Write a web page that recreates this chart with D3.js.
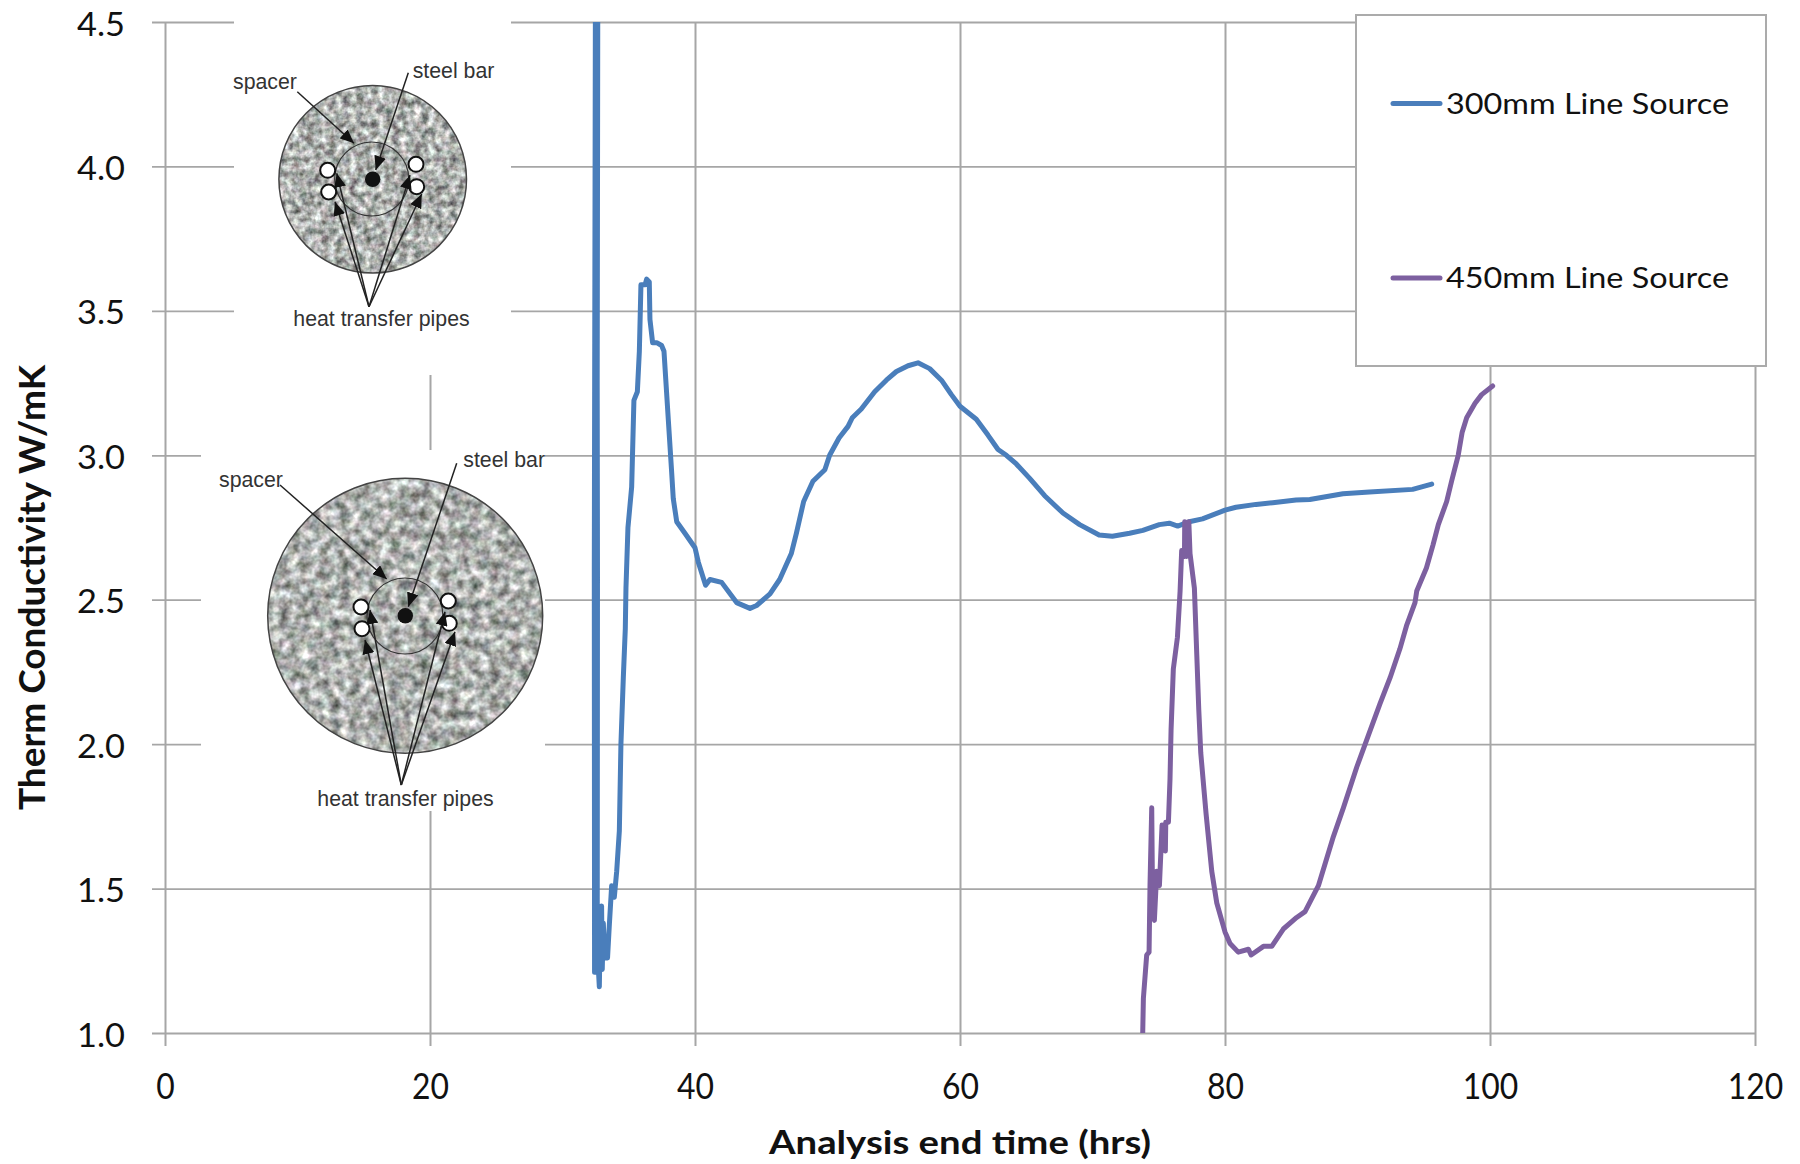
<!DOCTYPE html>
<html>
<head>
<meta charset="utf-8">
<script src="https://cdn.jsdelivr.net/npm/d3@7"></script>
<style>
  body { margin: 0; background: #fff; }
  text { fill: #111; font-family: Lato, sans-serif; }
  .drawing text { fill: #333; font-family: "Liberation Sans", sans-serif; font-size: 21.3px; }
</style>
</head>
<body>
<div id="chart"></div>
<script>
const WIDTH = 1800;
const HEIGHT = 1164;
const GRID_COLOR = "#a6a6a6";
const TICK_LENGTH = 13;

const X_TICKS = [0, 20, 40, 60, 80, 100, 120];
const Y_TICKS = [1.0, 1.5, 2.0, 2.5, 3.0, 3.5, 4.0, 4.5];

const X_TITLE = "Analysis end time (hrs)";
const Y_TITLE = "Therm Conductivity W/mK";
const SERIES_NAMES = ["300mm Line Source", "450mm Line Source"];
const SERIES_COLORS = ["#4a7ebb", "#7d60a0"];

// [hours, W/mK]
const line300 = [
  [32.66, 4.5], [32.55, 1.21], [32.42, 1.21], [32.4, 2.6], [32.48, 4.5], [32.58, 4.5], [32.64, 2.6],
  [32.62, 1.21], [32.72, 1.21], [32.78, 1.16], [32.83, 1.3], [32.95, 1.44], [33.0, 1.22],
  [33.08, 1.38], [33.2, 1.26], [33.4, 1.26], [33.53, 1.37], [33.71, 1.51], [33.91, 1.47],
  [34.09, 1.56], [34.29, 1.7], [34.41, 2.0], [34.59, 2.23], [34.74, 2.4], [34.79, 2.54],
  [34.94, 2.75], [35.22, 2.89], [35.39, 3.19], [35.65, 3.22], [35.8, 3.36], [35.92, 3.59],
  [36.23, 3.59], [36.35, 3.61], [36.55, 3.6], [36.6, 3.47], [36.8, 3.39], [37.11, 3.39],
  [37.48, 3.38], [37.66, 3.36], [37.99, 3.12], [38.24, 2.94], [38.36, 2.85], [38.62, 2.77],
  [39.24, 2.73], [40.0, 2.68], [40.25, 2.63], [40.8, 2.55], [41.13, 2.57], [42.01, 2.56],
  [43.14, 2.49], [44.15, 2.47], [44.65, 2.48], [45.66, 2.52], [46.39, 2.57], [47.27, 2.66],
  [47.65, 2.73], [48.2, 2.84], [48.9, 2.91], [49.8, 2.95], [50.16, 3.0], [50.87, 3.06],
  [51.55, 3.1], [51.87, 3.13], [52.55, 3.16], [53.56, 3.22], [54.44, 3.26], [55.2, 3.29],
  [56.08, 3.31], [56.83, 3.32], [57.71, 3.3], [58.6, 3.26], [59.35, 3.21], [60.0, 3.17],
  [61.23, 3.125], [62.11, 3.07], [62.87, 3.02], [63.5, 3.0], [64.25, 2.97], [65.26, 2.92],
  [66.39, 2.86], [67.77, 2.8], [69.03, 2.76], [70.5, 2.724], [71.5, 2.72], [72.8, 2.73],
  [73.8, 2.74], [75.04, 2.76], [75.8, 2.765], [76.43, 2.755], [77.3, 2.77], [78.3, 2.78],
  [80.0, 2.81], [80.83, 2.82], [82.34, 2.83], [83.6, 2.836], [85.36, 2.845], [86.4, 2.847],
  [88.9, 2.867], [90.9, 2.873], [94.16, 2.882], [95.6, 2.9]
];

const line450 = [
  [73.79, 1.0], [73.84, 1.12], [74.09, 1.27], [74.27, 1.28], [74.34, 1.51], [74.47, 1.78],
  [74.54, 1.42], [74.67, 1.39], [74.85, 1.56], [75.05, 1.51], [75.25, 1.72], [75.5, 1.63],
  [75.53, 1.73], [75.73, 1.73], [75.85, 1.88], [75.93, 2.05], [76.1, 2.26], [76.41, 2.37],
  [76.61, 2.53], [76.73, 2.67], [76.94, 2.65], [76.96, 2.77], [77.1, 2.65], [77.27, 2.77],
  [77.36, 2.66], [77.69, 2.54], [77.87, 2.31], [78.02, 2.12], [78.17, 1.97], [78.57, 1.76],
  [79.0, 1.56], [79.38, 1.45], [80.0, 1.35], [80.38, 1.31], [81.0, 1.28], [81.77, 1.29],
  [81.97, 1.27], [82.9, 1.3], [83.53, 1.3], [84.4, 1.36], [85.41, 1.4], [86.04, 1.42],
  [87.05, 1.51], [88.18, 1.68], [88.94, 1.78], [89.94, 1.92], [90.82, 2.03], [91.7, 2.14],
  [92.46, 2.23], [93.2, 2.33], [93.7, 2.41], [94.34, 2.49], [94.47, 2.53], [95.2, 2.61],
  [95.7, 2.69], [96.1, 2.76], [96.73, 2.84], [97.1, 2.91], [97.6, 3.0], [97.9, 3.08],
  [98.24, 3.13], [98.87, 3.18], [99.37, 3.21], [100.2, 3.24]
];

const SERIES = [line300, line450];

// The two borehole sketches pasted over the chart, in page pixels
const DRAWINGS = [
  {
    box: [234, 0, 277, 375], grain: 0.14,
    center: [372.7, 179.3], radius: 93.8, spacer: [371.7, 179, 37],
    bar: [372.7, 179.3],
    pipes: [[327.7, 170.3], [328.7, 192], [416, 164.3], [416.7, 186.7]],
    spacerArrow: [297.3, 91.7, 354, 143.3],
    barArrow: [408.3, 72.7, 375.7, 170],
    pipesFrom: [369, 306.7],
    pipesTo: [[335, 201.7], [336.7, 173.3], [410, 175], [421.7, 194]],
    spacerLabel: [233, 89], barLabel: [412.7, 77.7], pipesLabel: [293.3, 326]
  },
  {
    box: [201, 450, 344, 361], grain: 0.1,
    center: [405.2, 615.8], radius: 137.5, spacer: [405, 616, 38],
    bar: [405.3, 615.7],
    pipes: [[361, 607], [362, 628.7], [448.3, 601], [449.3, 623.3]],
    spacerArrow: [280, 485, 386.7, 579],
    barArrow: [456.7, 463.3, 408.3, 606.7],
    pipesFrom: [401.3, 785],
    pipesTo: [[365, 640], [370, 610], [445, 611.7], [455, 631.7]],
    spacerLabel: [219, 487.3], barLabel: [463.3, 466.7], pipesLabel: [317.3, 806]
  }
];

var svg = d3.select("#chart").append("svg")
  .attr("width", WIDTH)
  .attr("height", HEIGHT);

var defs = svg.append("defs");

var xScale = d3.scaleLinear().domain([0, 120]).range([165, 1755]);
var yScale = d3.scaleLinear().domain([1, 4.5]).range([1033, 22]);

function drawAxes() {

  var xAxis = svg.append("g")
    .attr("transform", "translate(0," + yScale(1) + ")")
    .call(d3.axisBottom(xScale).tickValues(X_TICKS).tickSizeOuter(0));

  xAxis.select(".domain").remove();
  xAxis.selectAll("line")
    .attr("y1", yScale(4.5) - yScale(1))
    .attr("y2", TICK_LENGTH)
    .attr("stroke", GRID_COLOR)
    .attr("stroke-width", 2);
  xAxis.selectAll("text")
    .attr("y", 66)
    .attr("dy", 0)
    .attr("font-size", 36)
    .attr("textLength", function(d) { return String(d).length * 18.5; })
    .attr("lengthAdjust", "spacingAndGlyphs");

  var yAxis = svg.append("g")
    .attr("transform", "translate(165,0)")
    .call(d3.axisLeft(yScale).tickValues(Y_TICKS).tickFormat(d3.format(".1f")).tickSizeOuter(0));

  yAxis.select(".domain").remove();
  yAxis.selectAll("line")
    .attr("x1", -TICK_LENGTH)
    .attr("x2", xScale(120) - xScale(0))
    .attr("stroke", GRID_COLOR)
    .attr("stroke-width", 1.8);
  yAxis.selectAll("text")
    .attr("x", -40)
    .attr("dy", 13)
    .attr("font-size", 33)
    .attr("textLength", 48)
    .attr("lengthAdjust", "spacingAndGlyphs");

}

function drawTitles() {

  svg.append("text")
    .attr("x", 960)
    .attr("y", 1154)
    .attr("text-anchor", "middle")
    .attr("font-size", 33)
    .attr("font-weight", "bold")
    .attr("textLength", 382)
    .attr("lengthAdjust", "spacingAndGlyphs")
    .text(X_TITLE);

  svg.append("text")
    .attr("transform", "translate(45,587.5) rotate(-90)")
    .attr("text-anchor", "middle")
    .attr("font-size", 36)
    .attr("font-weight", "bold")
    .attr("textLength", 445)
    .attr("lengthAdjust", "spacingAndGlyphs")
    .text(Y_TITLE);

}

function drawSeries() {

  defs.append("clipPath")
    .attr("id", "plot-clip")
    .append("rect")
    .attr("x", 0)
    .attr("y", yScale(4.5))
    .attr("width", WIDTH)
    .attr("height", yScale(1) - yScale(4.5));

  var line = d3.line()
    .x(function(d) { return xScale(d[0]); })
    .y(function(d) { return yScale(d[1]); });

  svg.append("g")
    .attr("clip-path", "url(#plot-clip)")
    .selectAll("path")
    .data(SERIES)
    .enter().append("path")
    .attr("fill", "none")
    .attr("stroke", function(d, i) { return SERIES_COLORS[i]; })
    .attr("stroke-width", 5)
    .attr("stroke-linejoin", "round")
    .attr("stroke-linecap", "round")
    .attr("d", line);

}

function drawLegend() {

  svg.append("rect")
    .attr("x", 1356)
    .attr("y", 15)
    .attr("width", 410)
    .attr("height", 351)
    .attr("fill", "#fff")
    .attr("stroke", "#ababab")
    .attr("stroke-width", 2);

  var entries = svg.append("g")
    .selectAll("g")
    .data(SERIES_NAMES)
    .enter().append("g")
    .attr("transform", function(d, i) { return "translate(0," + (103.5 + i * 174.5) + ")"; });

  entries.append("line")
    .attr("x1", 1393)
    .attr("x2", 1440)
    .attr("stroke", function(d, i) { return SERIES_COLORS[i]; })
    .attr("stroke-width", 5)
    .attr("stroke-linecap", "round");

  entries.append("text")
    .attr("x", 1446)
    .attr("y", 10)
    .attr("font-size", 29)
    .attr("textLength", 283)
    .attr("lengthAdjust", "spacingAndGlyphs")
    .text(function(d) { return d; });

}

function drawArrow(group, from, to) {

  group.append("line")
    .attr("x1", from[0])
    .attr("y1", from[1])
    .attr("x2", to[0])
    .attr("y2", to[1])
    .attr("stroke", "#222")
    .attr("stroke-width", 1.5)
    .attr("marker-end", "url(#arrow-head)");

}

function drawDrawing(d, i) {

  var group = svg.append("g").attr("class", "drawing");

  group.append("rect")
    .attr("x", d.box[0])
    .attr("y", d.box[1])
    .attr("width", d.box[2])
    .attr("height", d.box[3])
    .attr("fill", "#fff");

  // Mottled concrete fill
  group.append("circle")
    .attr("cx", d.center[0])
    .attr("cy", d.center[1])
    .attr("r", d.radius)
    .attr("fill", "#aaa6a4")
    .attr("filter", "url(#grout-" + i + ")");

  group.append("circle")
    .attr("cx", d.center[0])
    .attr("cy", d.center[1])
    .attr("r", d.radius)
    .attr("fill", "none")
    .attr("stroke", "#444")
    .attr("stroke-width", 1.5);

  group.append("circle")
    .attr("cx", d.spacer[0])
    .attr("cy", d.spacer[1])
    .attr("r", d.spacer[2])
    .attr("fill", "none")
    .attr("stroke", "#333")
    .attr("stroke-width", 1.2);

  group.append("circle")
    .attr("cx", d.bar[0])
    .attr("cy", d.bar[1])
    .attr("r", 7.7)
    .attr("fill", "#111");

  group.selectAll(".pipe")
    .data(d.pipes)
    .enter().append("circle")
    .attr("class", "pipe")
    .attr("cx", function(p) { return p[0]; })
    .attr("cy", function(p) { return p[1]; })
    .attr("r", 7.5)
    .attr("fill", "#fff")
    .attr("stroke", "#111")
    .attr("stroke-width", 2);

  drawArrow(group, d.spacerArrow.slice(0, 2), d.spacerArrow.slice(2));
  drawArrow(group, d.barArrow.slice(0, 2), d.barArrow.slice(2));
  d.pipesTo.forEach(function(to) {
    drawArrow(group, d.pipesFrom, to);
  });

  group.append("text").attr("x", d.spacerLabel[0]).attr("y", d.spacerLabel[1]).text("spacer");
  group.append("text").attr("x", d.barLabel[0]).attr("y", d.barLabel[1]).text("steel bar");
  group.append("text").attr("x", d.pipesLabel[0]).attr("y", d.pipesLabel[1]).text("heat transfer pipes");

}

function createDrawingDefs() {

  defs.append("marker")
    .attr("id", "arrow-head")
    .attr("markerUnits", "userSpaceOnUse")
    .attr("viewBox", "0 0 14 12")
    .attr("refX", 14)
    .attr("refY", 6)
    .attr("markerWidth", 14)
    .attr("markerHeight", 12)
    .attr("orient", "auto")
    .append("path")
    .attr("d", "M0,0L14,6L0,12Z")
    .attr("fill", "#111");

  // Grey turbulence with a faint tint, kept inside the circle
  DRAWINGS.forEach(function(d, i) {

    var filter = defs.append("filter")
      .attr("id", "grout-" + i)
      .attr("x", 0)
      .attr("y", 0)
      .attr("width", 1)
      .attr("height", 1)
      .attr("color-interpolation-filters", "sRGB");

    filter.append("feTurbulence")
      .attr("type", "fractalNoise")
      .attr("baseFrequency", d.grain)
      .attr("numOctaves", 3)
      .attr("seed", 4 + i)
      .attr("result", "noise");

    filter.append("feColorMatrix")
      .attr("in", "noise")
      .attr("type", "matrix")
      .attr("values", "1.0 0.12 0 0 0.12  1.0 0 0.1 0 0.14  1.0 0 0 0.08 0.14  0 0 0 0 1")
      .attr("result", "flecks");

    filter.append("feComposite")
      .attr("in", "flecks")
      .attr("in2", "SourceGraphic")
      .attr("operator", "in");

  });

}

drawAxes();
drawTitles();
drawSeries();
drawLegend();
createDrawingDefs();
DRAWINGS.forEach(drawDrawing);
</script>
</body>
</html>
